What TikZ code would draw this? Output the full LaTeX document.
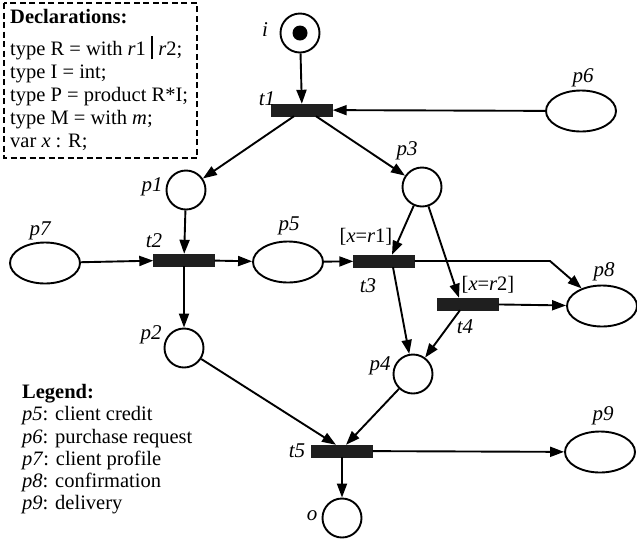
\documentclass[tikz,border=0pt]{standalone}
\usepackage{fontspec}
\setmainfont{Liberation Serif}
\usetikzlibrary{arrows.meta,shapes.geometric}
\begin{document}
\begin{tikzpicture}[x=1pt,y=-1pt,
  every node/.style={font=\fontsize{20.5}{23}\selectfont},
  place/.style={circle,draw,line width=1.9pt,minimum size=39pt,inner sep=0pt},
  oplace/.style={ellipse,draw,line width=1.9pt,minimum width=70pt,minimum height=41pt,inner sep=0pt},
  trans/.style={rectangle,fill=black!88,draw=black!88,minimum width=61pt,minimum height=12pt,inner sep=0pt},
  lbl/.style={font=\fontsize{21}{22}\selectfont\itshape,inner sep=0pt},
  arc/.style={line width=1.9pt,-{Triangle[length=14pt,width=10pt]}}
]
\useasboundingbox (0,0) rectangle (637,542);

% declarations box
\draw[dash pattern=on 6pt off 3.5pt,line width=1.1pt] (4,3) rectangle (197,158);
\node[anchor=north west,align=left,inner sep=0pt] (decl) at (10,9) {%
  \textbf{Declarations:}\\[9pt]
  type R = with \textit{r}1 \raisebox{-4pt}{\rule{2.2pt}{23pt}} \textit{r}2;\\
  type I = int;\\
  type P = product R*I;\\
  type M = with \textit{m};\\
  var \textit{x} : R;};

% places
\node[place] (i) at (300,33) {};
\fill (i) circle (7.5pt);
\node[place] (p1) at (186,190) {};
\node[place] (p3) at (422,187) {};
\node[place] (p2) at (184,348) {};
\node[place] (p4) at (413,374) {};
\node[place] (o) at (342,518) {};
\node[oplace] (p6) at (581,111) {};
\node[oplace] (p7) at (45,263) {};
\node[oplace] (p5) at (288,262) {};
\node[oplace] (p8) at (602,306) {};
\node[oplace] (p9) at (600,452) {};

% transitions
\node[trans] (t1) at (302,110) {};
\node[trans] (t2) at (184,260) {};
\node[trans] (t3) at (384,261) {};
\node[trans] (t4) at (468,304) {};
\node[trans] (t5) at (342,451) {};

% labels
\node[lbl] (li) at (265,30) {i};
\node[lbl] (lt1) at (267,99) {t1};
\node[lbl] (lp6) at (583,78) {p6};
\node[lbl] (lp1) at (152,187) {p1};
\node[lbl] (lp3) at (407,151) {p3};
\node[lbl] (lp7) at (40,231) {p7};
\node[lbl] (lt2) at (154,241) {t2};
\node[lbl] (lp5) at (289,226) {p5};
\node[lbl] (lt3) at (368,286) {t3};
\node[lbl] (lp8) at (604,272) {p8};
\node[lbl] (lt4) at (465,327) {t4};
\node[lbl] (lp2) at (151,335) {p2};
\node[lbl] (lp4) at (380,366) {p4};
\node[lbl] (lt5) at (297,451) {t5};
\node[lbl] (lp9) at (603,416) {p9};
\node[lbl] (lo) at (312,516) {o};
\node[inner sep=0pt] (g1) at (366,237) {[\textit{x}=\textit{r}1]};
\node[inner sep=0pt] (g2) at (488,285) {[\textit{x}=\textit{r}2]};

% arcs
\draw[arc] (i) -- (t1);
\draw[arc] (p6) -- (t1);
\draw[arc] (t1.south) ++(-8,0) coordinate (t1a) (t1a) -- (p1);
\draw[arc] (t1.south) ++(14,0) coordinate (t1b) (t1b) -- (p3);
\draw[arc] (p1) -- (t2);
\draw[arc] (t2) -- (p2);
\draw[arc] (p7) -- (t2);
\draw[arc] (t2) -- (p5);
\draw[arc] (p5) -- (t3);
\draw[arc] (p3) -- (t3.north -| 392,0);
\draw[arc] (p3) -- (t4.north -| 459,0);
\coordinate (bend) at (550,261);
\draw[arc] (t3.east) -- (bend) -- (p8);
\draw[arc] (t4) -- (p8);
\draw[arc] (t3.south -| 393,0) -- (p4);
\draw[arc] (t4.south -| 460,0) -- (p4);
\draw[arc] (p2) -- (t5.north -| 336,0);
\draw[arc] (p4) -- (t5.north -| 346,0);
\draw[arc] (t5) -- (p9);
\draw[arc] (t5) -- (o);

% legend
\node[anchor=north west,align=left,inner sep=0pt,font=\fontsize{20.5}{22.3}\selectfont] (legend) at (22,384) {%
  \textbf{Legend:}\\
  \textit{p5}: client credit\\
  \textit{p6}: purchase request\\
  \textit{p7}: client profile\\
  \textit{p8}: confirmation\\
  \textit{p9}: delivery};
\end{tikzpicture}
\end{document}
